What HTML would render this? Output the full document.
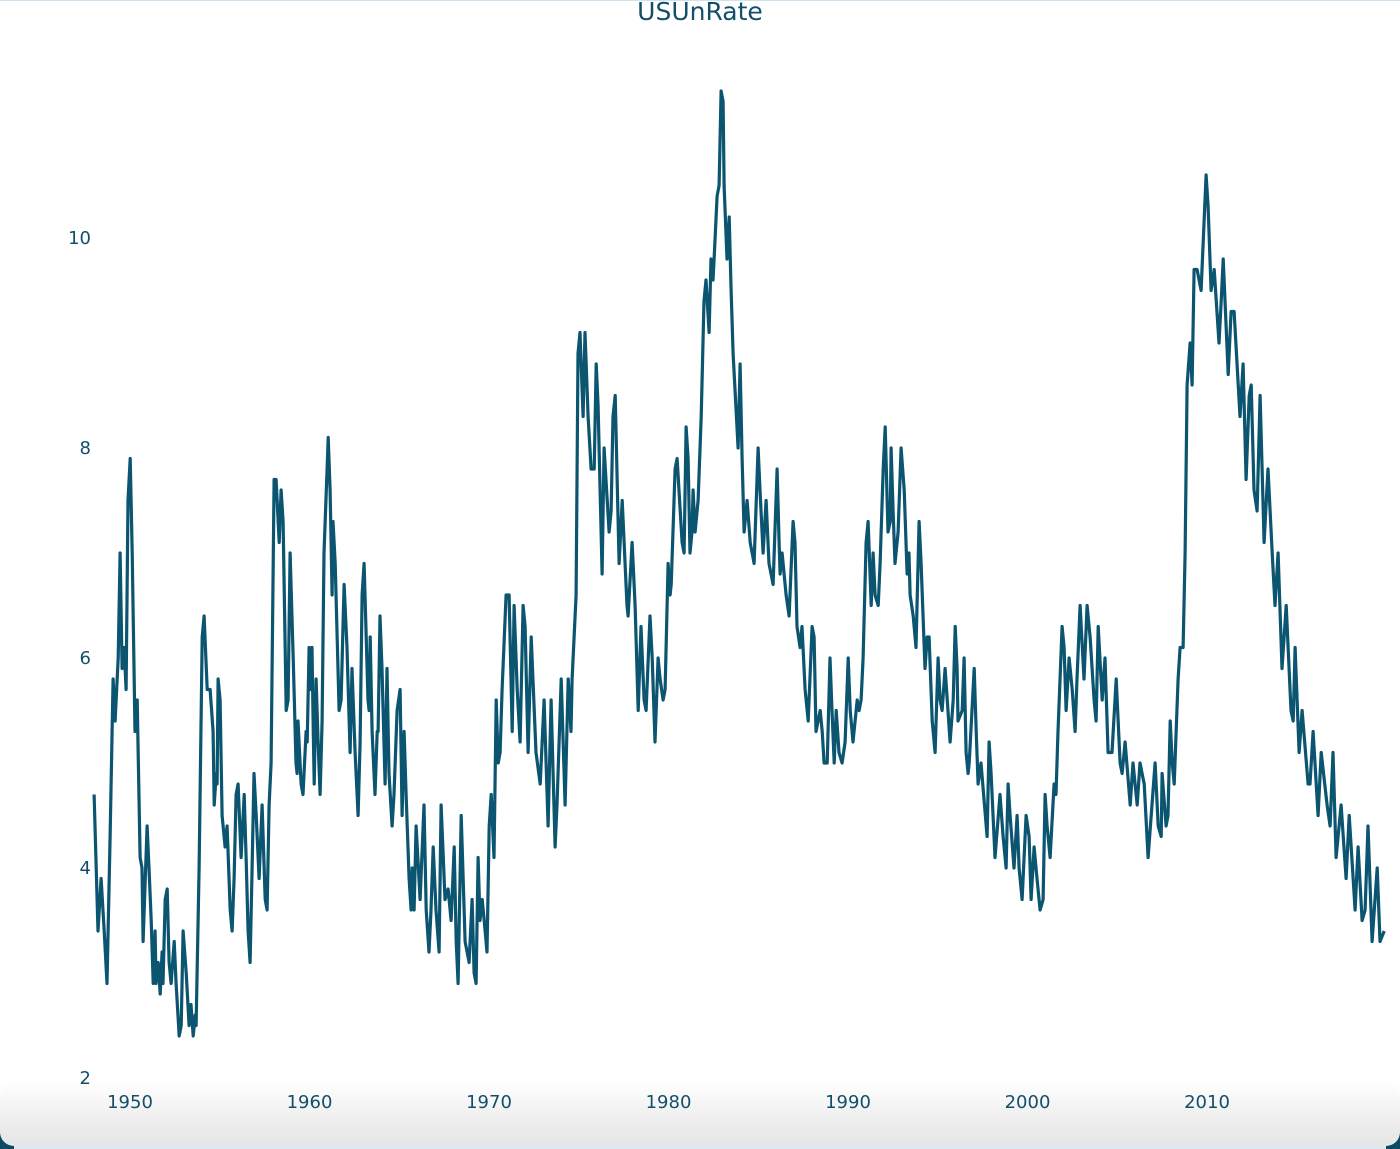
<!DOCTYPE html>
<html><head><meta charset="utf-8"><style>
html,body{margin:0;padding:0;background:#fff;width:1400px;height:1149px;overflow:hidden}
svg{display:block}
text{font-family:"DejaVu Sans","Liberation Sans",sans-serif;fill:#134f69}
</style></head><body>
<svg id="chart" width="1400" height="1149">
<defs><linearGradient id="bg" x1="0" y1="0" x2="0" y2="1">
<stop offset="0" stop-color="#ffffff"/><stop offset="0.7" stop-color="#ebebeb"/><stop offset="1" stop-color="#e6e6e6"/></linearGradient></defs>
<rect x="0" y="0" width="1400" height="1149" fill="#fff"/>
<rect x="0" y="1130" width="1400" height="19" fill="#0d4a63"/>
<rect x="14" y="1140" width="1372" height="9" fill="#dbe9f0"/>
<rect x="0" y="1082" width="1400" height="64" rx="14" fill="url(#bg)"/>
<line x1="0" y1="0.5" x2="1400" y2="0.5" stroke="#cfe3ee" stroke-width="1"/>
<text x="700" y="20" text-anchor="middle" font-size="25">USUnRate</text>
<g id="yticks"></g><g id="xticks"></g>
<path id="line" fill="none" stroke="#0b5570" stroke-width="3.2" stroke-linejoin="round"/>
</svg>
<script>
const years=[1948.00,1948.22,1948.39,1948.56,1948.72,1948.89,1949.06,1949.17,1949.34,1949.45,1949.56,1949.67,1949.78,1949.89,1950.01,1950.12,1950.28,1950.40,1950.56,1950.67,1950.73,1950.95,1951.06,1951.18,1951.29,1951.40,1951.45,1951.57,1951.68,1951.79,1951.84,1951.96,1952.07,1952.18,1952.29,1952.46,1952.57,1952.74,1952.85,1952.96,1953.13,1953.29,1953.40,1953.52,1953.63,1953.68,1953.85,1954.02,1954.13,1954.30,1954.46,1954.63,1954.69,1954.80,1954.85,1954.91,1955.02,1955.13,1955.30,1955.41,1955.58,1955.69,1955.80,1955.91,1956.02,1956.19,1956.36,1956.47,1956.58,1956.69,1956.80,1956.91,1957.03,1957.19,1957.36,1957.53,1957.64,1957.75,1957.86,1958.03,1958.14,1958.31,1958.42,1958.53,1958.70,1958.81,1958.92,1959.09,1959.25,1959.31,1959.36,1959.53,1959.64,1959.81,1959.87,1959.98,1960.03,1960.14,1960.20,1960.26,1960.37,1960.48,1960.59,1960.70,1960.81,1960.98,1961.04,1961.15,1961.26,1961.31,1961.43,1961.65,1961.76,1961.93,1962.09,1962.26,1962.37,1962.54,1962.71,1962.82,1962.93,1963.04,1963.26,1963.32,1963.38,1963.49,1963.65,1963.77,1963.82,1963.93,1964.04,1964.21,1964.32,1964.43,1964.60,1964.71,1964.88,1965.05,1965.16,1965.27,1965.38,1965.55,1965.66,1965.72,1965.83,1965.94,1966.16,1966.38,1966.50,1966.66,1966.77,1966.89,1967.05,1967.22,1967.33,1967.55,1967.72,1967.89,1968.06,1968.17,1968.28,1968.45,1968.67,1968.78,1968.89,1969.06,1969.17,1969.28,1969.39,1969.50,1969.62,1969.73,1969.89,1970.01,1970.12,1970.28,1970.40,1970.51,1970.62,1970.73,1970.95,1971.12,1971.29,1971.40,1971.57,1971.73,1971.90,1972.01,1972.18,1972.35,1972.62,1972.85,1973.07,1973.29,1973.46,1973.68,1973.79,1974.02,1974.24,1974.41,1974.57,1974.63,1974.85,1974.96,1975.07,1975.24,1975.35,1975.52,1975.69,1975.86,1975.97,1976.08,1976.30,1976.41,1976.69,1976.80,1976.91,1977.03,1977.25,1977.42,1977.69,1977.75,1977.97,1978.14,1978.31,1978.47,1978.64,1978.75,1978.97,1979.09,1979.25,1979.42,1979.53,1979.70,1979.81,1979.98,1980.09,1980.15,1980.37,1980.48,1980.76,1980.87,1980.98,1981.09,1981.20,1981.31,1981.37,1981.48,1981.65,1981.82,1981.98,1982.09,1982.26,1982.37,1982.48,1982.54,1982.71,1982.82,1982.93,1983.04,1983.10,1983.26,1983.38,1983.49,1983.60,1983.88,1983.99,1984.10,1984.21,1984.38,1984.55,1984.77,1984.99,1985.10,1985.27,1985.44,1985.60,1985.83,1986.05,1986.16,1986.22,1986.33,1986.55,1986.72,1986.94,1987.05,1987.16,1987.33,1987.44,1987.61,1987.78,1988.00,1988.11,1988.22,1988.45,1988.56,1988.67,1988.84,1989.00,1989.11,1989.23,1989.34,1989.50,1989.67,1989.84,1990.01,1990.12,1990.28,1990.51,1990.62,1990.73,1990.84,1991.01,1991.12,1991.29,1991.40,1991.51,1991.68,1991.79,1991.96,1992.07,1992.23,1992.35,1992.40,1992.51,1992.62,1992.79,1992.96,1993.13,1993.29,1993.40,1993.46,1993.63,1993.79,1993.96,1994.07,1994.29,1994.41,1994.52,1994.69,1994.85,1995.02,1995.13,1995.24,1995.41,1995.69,1995.86,1995.97,1996.08,1996.13,1996.36,1996.47,1996.58,1996.69,1996.75,1997.03,1997.14,1997.25,1997.41,1997.75,1997.86,1997.97,1998.19,1998.47,1998.64,1998.81,1998.92,1999.03,1999.25,1999.42,1999.53,1999.70,1999.92,2000.09,2000.20,2000.37,2000.53,2000.70,2000.87,2000.98,2001.09,2001.26,2001.48,2001.59,2001.70,2001.93,2002.04,2002.15,2002.32,2002.49,2002.65,2002.76,2002.93,2003.15,2003.32,2003.49,2003.71,2003.82,2003.94,2004.16,2004.32,2004.49,2004.71,2004.94,2005.16,2005.27,2005.44,2005.72,2005.88,2006.11,2006.27,2006.50,2006.72,2006.89,2007.11,2007.28,2007.45,2007.50,2007.72,2007.83,2007.95,2008.06,2008.17,2008.39,2008.50,2008.67,2008.78,2008.89,2009.06,2009.17,2009.28,2009.45,2009.67,2009.95,2010.06,2010.23,2010.40,2010.67,2010.79,2010.90,2011.18,2011.34,2011.51,2011.84,2012.01,2012.18,2012.35,2012.46,2012.62,2012.79,2012.96,2013.18,2013.40,2013.63,2013.79,2013.96,2014.18,2014.41,2014.68,2014.80,2014.91,2015.13,2015.30,2015.63,2015.74,2015.91,2016.19,2016.36,2016.69,2016.86,2017.02,2017.19,2017.47,2017.75,2017.92,2018.25,2018.42,2018.64,2018.81,2018.97,2019.20,2019.48,2019.64,2019.87];
const rates=[4.7,3.4,3.9,3.4,2.9,4.3,5.8,5.4,6.0,7.0,5.9,6.1,5.7,7.5,7.9,7.0,5.3,5.6,4.1,4.0,3.3,4.4,4.0,3.5,2.9,3.4,2.9,3.1,2.8,3.2,2.9,3.7,3.8,3.1,2.9,3.3,2.9,2.4,2.5,3.4,3.0,2.5,2.7,2.4,2.6,2.5,4.0,6.2,6.4,5.7,5.7,5.3,4.6,4.9,4.8,5.8,5.6,4.5,4.2,4.4,3.6,3.4,3.9,4.7,4.8,4.1,4.7,4.1,3.4,3.1,4.0,4.9,4.5,3.9,4.6,3.7,3.6,4.6,5.0,7.7,7.7,7.1,7.6,7.3,5.5,5.6,7.0,6.0,5.0,4.9,5.4,4.8,4.7,5.3,5.2,6.1,5.7,6.1,5.4,4.8,5.8,5.2,4.7,5.4,7.0,7.8,8.1,7.6,6.6,7.3,6.9,5.5,5.6,6.7,6.1,5.1,5.9,5.1,4.5,5.2,6.6,6.9,5.6,5.5,6.2,5.3,4.7,5.3,5.3,6.4,5.9,4.8,5.9,4.9,4.4,4.7,5.5,5.7,4.5,5.3,4.7,3.9,3.6,4.0,3.6,4.4,3.7,4.6,3.6,3.2,3.6,4.2,3.6,3.2,4.6,3.7,3.8,3.5,4.2,3.3,2.9,4.5,3.3,3.2,3.1,3.7,3.0,2.9,4.1,3.5,3.7,3.5,3.2,4.4,4.7,4.1,5.6,5.0,5.1,5.7,6.6,6.6,5.3,6.5,5.7,5.2,6.5,6.3,5.1,6.2,5.1,4.8,5.6,4.4,5.6,4.2,4.6,5.8,4.6,5.8,5.3,5.8,6.6,8.9,9.1,8.3,9.1,8.3,7.8,7.8,8.8,8.4,6.8,8.0,7.2,7.4,8.3,8.5,6.9,7.5,6.5,6.4,7.1,6.5,5.5,6.3,5.6,5.5,6.4,6.0,5.2,6.0,5.8,5.6,5.7,6.9,6.6,6.7,7.8,7.9,7.1,7.0,8.2,7.9,7.0,7.2,7.6,7.2,7.5,8.3,9.4,9.6,9.1,9.8,9.6,9.8,10.4,10.5,11.4,11.3,10.5,9.8,10.2,9.5,8.9,8.0,8.8,7.9,7.2,7.5,7.1,6.9,8.0,7.6,7.0,7.5,6.9,6.7,7.8,7.1,6.8,7.0,6.6,6.4,7.3,7.1,6.3,6.1,6.3,5.7,5.4,6.3,6.2,5.3,5.5,5.3,5.0,5.0,6.0,5.5,5.0,5.5,5.1,5.0,5.2,6.0,5.5,5.2,5.6,5.5,5.6,6.0,7.1,7.3,6.5,7.0,6.6,6.5,6.9,7.8,8.2,7.2,7.3,8.0,7.4,6.9,7.2,8.0,7.6,6.8,7.0,6.6,6.4,6.1,7.3,6.9,5.9,6.2,6.2,5.4,5.1,6.0,5.6,5.5,5.9,5.2,5.6,6.3,5.9,5.4,5.5,6.0,5.1,4.9,5.0,5.9,5.3,4.8,5.0,4.3,5.2,4.9,4.1,4.7,4.3,4.0,4.8,4.5,4.0,4.5,4.0,3.7,4.5,4.3,3.7,4.2,3.9,3.6,3.7,4.7,4.4,4.1,4.8,4.7,5.3,6.3,6.1,5.5,6.0,5.7,5.3,5.8,6.5,5.8,6.5,6.2,5.6,5.4,6.3,5.6,6.0,5.1,5.1,5.8,5.0,4.9,5.2,4.6,5.0,4.6,5.0,4.8,4.1,4.5,5.0,4.4,4.3,4.9,4.4,4.5,5.4,5.0,4.8,5.8,6.1,6.1,7.0,8.6,9.0,8.6,9.7,9.7,9.5,10.6,10.3,9.5,9.7,9.0,9.4,9.8,8.7,9.3,9.3,8.3,8.8,7.7,8.5,8.6,7.6,7.4,8.5,7.1,7.8,7.0,6.5,7.0,5.9,6.5,5.5,5.4,6.1,5.1,5.5,4.8,4.8,5.3,4.5,5.1,4.6,4.4,5.1,4.1,4.6,3.9,4.5,3.6,4.2,3.5,3.6,4.4,3.3,4.0,3.3,3.4];
const yTickVals=[2,4,6,8,10];
const xTickVals=[1950,1960,1970,1980,1990,2000,2010];

const X=y=>130+(y-1950)*(1207-130)/60;
const Y=v=>1078-(v-2)*105;
const NS='http://www.w3.org/2000/svg';
let d='';
for(let i=0;i<years.length;i++){d+=(i?'L':'M')+X(years[i]).toFixed(1)+','+Y(rates[i]).toFixed(1);}
document.getElementById('line').setAttribute('d',d);
const yg=document.getElementById('yticks');
yTickVals.forEach(v=>{
  const t=document.createElementNS(NS,'text');
  t.setAttribute('x',91);t.setAttribute('y',Y(v)+6);t.setAttribute('text-anchor','end');t.setAttribute('font-size','18');
  t.textContent=v;
  
  
  yg.appendChild(t);
});
const xg=document.getElementById('xticks');
xTickVals.forEach(v=>{
  const t=document.createElementNS(NS,'text');
  t.setAttribute('x',X(v));t.setAttribute('y',1108);t.setAttribute('text-anchor','middle');t.setAttribute('font-size','18');
  t.textContent=v;
  
  
  xg.appendChild(t);
});
</script>
</body></html>
